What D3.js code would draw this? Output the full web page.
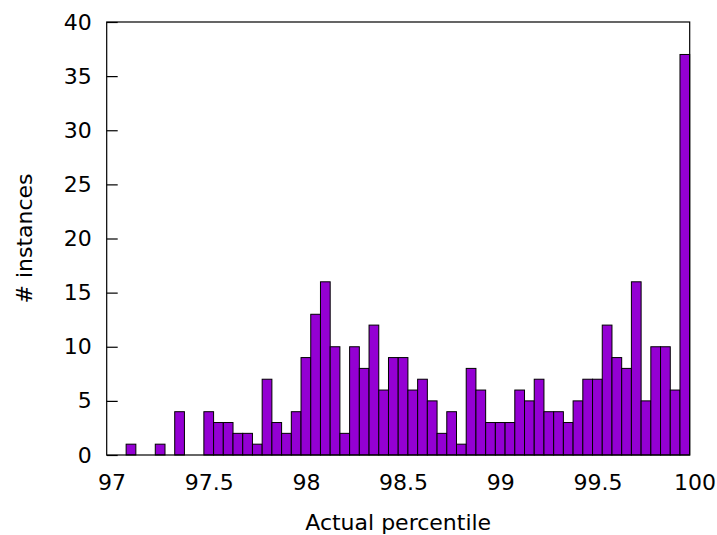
<!DOCTYPE html>
<html>
<head>
<meta charset="utf-8">
<script src="https://cdn.jsdelivr.net/npm/d3@7"></script>
<style>
  html, body { margin: 0; padding: 0; background: #fff; }
  svg { display: block; }
  text { font-family: "DejaVu Sans", sans-serif; fill: #000; }
</style>
</head>
<body>
<script>
// Histogram of actual percentiles, bins of 0.05 starting at 97.00
const binStart = 97.0;
const binWidth = 0.05;
const counts = [
  0, 0, 1, 0, 0, 1, 0, 4, 0, 0,
  4, 3, 3, 2, 2, 1, 7, 3, 2, 4,
  9, 13, 16, 10, 2, 10, 8, 12, 6, 9,
  9, 6, 7, 5, 2, 4, 1, 8, 6, 3,
  3, 3, 6, 5, 7, 4, 4, 3, 5, 7,
  7, 12, 9, 8, 16, 5, 10, 10, 6, 37
];
const xTicks = [97, 97.5, 98, 98.5, 99, 99.5, 100];
const xTickLabels = ["97", "97.5", "98", "98.5", "99", "99.5", "100"];
const yTicks = [0, 5, 10, 15, 20, 25, 30, 35, 40];
const xTitle = "Actual percentile";
const yTitle = "# instances";

const W = 717, H = 535;
const plotLeft = 106.7, plotRight = 689.7, plotTop = 22, plotBottom = 455;

const svg = d3.select("body").append("svg")
  .attr("width", W).attr("height", H);

// each bin is drawn centred on its start value
const x = d3.scaleLinear()
  .domain([binStart - binWidth / 2, binStart - binWidth / 2 + counts.length * binWidth])
  .range([plotLeft, plotRight]);
const y = d3.scaleLinear().domain([0, 40]).range([plotBottom, plotTop]);

const bins = counts.map((c, i) => ({
  x0: binStart + i * binWidth - binWidth / 2,
  x1: binStart + i * binWidth + binWidth / 2,
  c
}));

svg.append("g").selectAll("rect")
  .data(bins.filter(d => d.c > 0))
  .join("rect")
  .attr("x", d => x(d.x0))
  .attr("width", d => x(d.x1) - x(d.x0))
  .attr("y", d => y(d.c))
  .attr("height", d => y(0) - y(d.c))
  .attr("fill", "#9400d3")
  .attr("stroke", "#000")
  .attr("stroke-width", 1);

// frame
svg.append("rect")
  .attr("x", plotLeft).attr("y", plotTop)
  .attr("width", plotRight - plotLeft).attr("height", plotBottom - plotTop)
  .attr("fill", "none").attr("stroke", "#000").attr("stroke-width", 1.2);

// y axis, ticks pointing inward
const yAxis = svg.append("g")
  .attr("transform", `translate(${plotLeft},0)`)
  .call(d3.axisLeft(y).tickValues(yTicks).tickSize(-11).tickPadding(15).tickFormat(d3.format("d")));
yAxis.select(".domain").remove();
yAxis.selectAll("line").attr("stroke", "#000").attr("stroke-width", 1.2);
yAxis.selectAll("text").attr("font-size", 22).attr("font-family", "DejaVu Sans").attr("fill", "#000");

// x axis, labels only
const xAxis = svg.append("g")
  .attr("transform", `translate(0,${plotBottom})`)
  .call(d3.axisBottom(x).tickValues(xTicks).tickSize(0).tickPadding(19)
    .tickFormat((d, i) => xTickLabels[i]));
xAxis.select(".domain").remove();
xAxis.selectAll("text").attr("font-size", 22).attr("font-family", "DejaVu Sans").attr("fill", "#000");

svg.append("text")
  .attr("x", (plotLeft + plotRight) / 2).attr("y", 530)
  .attr("text-anchor", "middle").attr("font-size", 22)
  .text(xTitle);

svg.append("text")
  .attr("transform", `translate(31.5,${(plotTop + plotBottom) / 2}) rotate(-90)`)
  .attr("text-anchor", "middle").attr("font-size", 22)
  .text(yTitle);
</script>
</body>
</html>
